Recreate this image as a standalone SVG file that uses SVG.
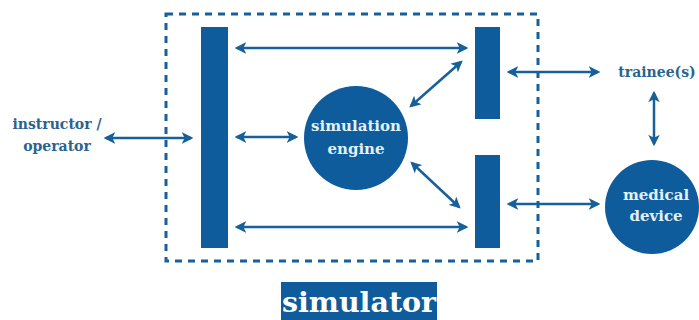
<svg xmlns="http://www.w3.org/2000/svg" width="699" height="320" viewBox="0 0 699 320">
<style>
.bar{fill:#0e5c9c}
.circ{fill:#0e5c9c}
.conn{stroke:#17609a;stroke-width:2.5;fill:none;marker-start:url(#ah);marker-end:url(#ah)}
.lbl{font-family:"DejaVu Serif",serif;font-weight:bold;font-size:14px;fill:#2a638f;text-anchor:middle}
.in{font-family:"DejaVu Serif",serif;font-weight:bold;font-size:15px;fill:#e3f1fb;text-anchor:middle}
</style>
<defs>
<marker id="ah" viewBox="0 0 10 10" refX="8" refY="5" markerWidth="4.6" markerHeight="4.6" orient="auto-start-reverse" markerUnits="strokeWidth">
<path d="M0,0 L10,5 L0,10 L2.5,5 Z" fill="#17609a"/>
</marker>
</defs>
<g id="simulator-boundary">
<rect x="166" y="14" width="372" height="247" fill="none" stroke="#17609a" stroke-width="3" stroke-dasharray="7,6"/>
</g>
<g id="left-bar"><rect class="bar" x="201" y="27" width="27" height="221"/></g>
<g id="right-top-bar"><rect class="bar" x="475" y="27" width="25" height="92"/></g>
<g id="right-bottom-bar"><rect class="bar" x="475" y="155" width="25" height="93"/></g>
<g id="simulation-engine">
<circle class="circ" cx="356" cy="138" r="52"/>
<text class="in" x="356" y="131">simulation</text>
<text class="in" x="356" y="154">engine</text>
</g>
<g id="medical-device">
<circle class="circ" cx="652" cy="207" r="47"/>
<text class="in" x="656" y="200">medical</text>
<text class="in" x="656" y="221">device</text>
</g>
<g id="instructor">
<text class="lbl" x="57" y="129">instructor /</text>
<text class="lbl" x="57" y="151">operator</text>
</g>
<g id="trainees">
<text class="lbl" x="657" y="77">trainee(s)</text>
</g>
<g id="simulator-label">
<rect x="281" y="282" width="156" height="38" fill="#0e5c9c"/>
<text x="359" y="312" font-family="DejaVu Serif,serif" font-weight="bold" font-size="28.5" fill="#ffffff" text-anchor="middle">simulator</text>
</g>
<g id="connectors">
<line class="conn" x1="106" y1="138" x2="191" y2="138"/>
<line class="conn" x1="237" y1="137" x2="296" y2="137"/>
<line class="conn" x1="237" y1="48" x2="466" y2="48"/>
<line class="conn" x1="237" y1="227" x2="466" y2="227"/>
<line class="conn" x1="411" y1="106" x2="461" y2="62"/>
<line class="conn" x1="412" y1="163" x2="459" y2="207"/>
<line class="conn" x1="509" y1="72" x2="598" y2="72"/>
<line class="conn" x1="509" y1="204" x2="598" y2="204"/>
<line class="conn" x1="654" y1="93" x2="654" y2="144"/>
</g>
</svg>
